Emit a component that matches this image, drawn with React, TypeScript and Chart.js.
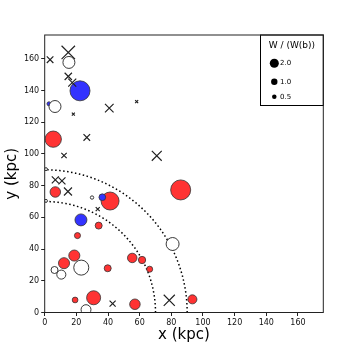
import React, { useEffect, useRef } from "react";
import { Chart, registerables } from "chart.js";

Chart.register(...registerables);

const X_TICKS = [0, 20, 40, 60, 80, 100, 120, 140, 160];
const Y_TICKS = [0, 20, 40, 60, 80, 100, 120, 140, 160];
const X_MAX = 176;
const Y_MAX = 175;
const ARC_RADII = [70, 90];
const LEGEND_TITLE = "W / (W(b))";
const LEGEND_WEIGHTS = [2.0, 1.0, 0.5];

// red (filled) points
const RED_X = [5.4, 6.7, 41.3, 85.9, 34.1, 20.7, 18.7, 12.2, 39.8, 55.3, 61.5, 66.3, 19.2, 30.9, 57.0, 93.3];
const RED_Y = [109.3, 76.0, 70.3, 77.3, 54.8, 48.5, 35.9, 31.1, 27.9, 34.4, 33.1, 27.3, 7.9, 9.3, 5.2, 8.3];
const RED_W = [6.5, 2.7, 7.9, 9.8, 1.2, 0.9, 3.0, 3.0, 1.2, 2.2, 1.3, 0.9, 0.8, 4.8, 2.7, 2.0];

// blue (filled) points
const BLUE_X = [22.3, 2.7, 36.4, 22.9];
const BLUE_Y = [139.8, 131.6, 72.7, 58.4];
const BLUE_W = [9.8, 0.4, 1.1, 3.5];

// open circles
const OPEN_X = [15.3, 6.5, 0.8, 0.8, 29.9, 80.8, 6.2, 10.5, 23.1, 26.1];
const OPEN_Y = [157.7, 129.9, 90.4, 70.4, 72.5, 43.2, 26.8, 23.9, 28.3, 1.8];
const OPEN_W = [3.5, 3.5, 0.22, 0.22, 0.28, 4.1, 1.2, 2.0, 5.5, 2.4];

// crosses
const CROSS_X = [14.9, 3.4, 14.9, 17.4, 40.8, 58.1, 18.1, 26.6, 12.2, 70.8, 6.7, 10.9, 14.7, 33.5, 42.9, 78.7];
const CROSS_Y = [164.0, 159.4, 148.9, 145.0, 128.9, 133.0, 125.1, 110.4, 99.0, 98.8, 83.6, 83.0, 76.3, 65.2, 5.6, 7.7];
const CROSS_W = [4.4, 1.06, 1.3, 1.56, 1.8, 0.22, 0.22, 1.06, 0.7, 2.4, 1.2, 1.2, 1.56, 0.4, 0.9, 3.0];

const FONT = '"DejaVu Sans", sans-serif';
const markerRadius = (w: number) => 3.2 * Math.sqrt(w);
const crossRadius = (w: number) => markerRadius(w) / Math.SQRT1_2;
const pts = (xs: number[], ys: number[]) => xs.map((x, i) => ({ x, y: ys[i] }));

const overlay = {
  id: "overlay",
  beforeDatasetsDraw(chart: any) {
    const { ctx, chartArea: a, scales } = chart;
    const xs = scales.x;
    const ys = scales.y;
    ctx.save();
    ctx.beginPath();
    ctx.rect(a.left, a.top, a.right - a.left, a.bottom - a.top);
    ctx.clip();
    ctx.strokeStyle = "#000";
    ctx.lineWidth = 1.5;
    ctx.setLineDash([1.5, 2.5]);
    for (const r of ARC_RADII) {
      ctx.beginPath();
      for (let i = 0; i <= 180; i++) {
        const t = (i * Math.PI) / 360;
        const px = xs.getPixelForValue(r * Math.cos(t));
        const py = ys.getPixelForValue(r * Math.sin(t));
        if (i === 0) ctx.moveTo(px, py);
        else ctx.lineTo(px, py);
      }
      ctx.stroke();
    }
    ctx.restore();
  },
  afterDraw(chart: any) {
    const { ctx, chartArea: a } = chart;
    ctx.save();
    // legend box
    const bx = 260.5;
    const by = a.top;
    const bw = a.right - bx;
    const bh = 70.5;
    ctx.fillStyle = "#fff";
    ctx.fillRect(bx, by, bw, bh);
    ctx.strokeStyle = "#000";
    ctx.lineWidth = 1;
    ctx.strokeRect(bx, by, bw, bh);
    ctx.fillStyle = "#000";
    ctx.font = `9px ${FONT}`;
    ctx.textAlign = "center";
    ctx.textBaseline = "middle";
    ctx.fillText(LEGEND_TITLE, bx + bw / 2, by + 11);
    const rowY = [63.3, 81.7, 96.7];
    ctx.font = `7px ${FONT}`;
    ctx.textAlign = "left";
    LEGEND_WEIGHTS.forEach((w, i) => {
      ctx.beginPath();
      ctx.arc(274.3, rowY[i], markerRadius(w), 0, Math.PI * 2);
      ctx.fill();
      ctx.fillText(w.toFixed(1), 280, rowY[i]);
    });
    // frame
    ctx.strokeStyle = "#222";
    ctx.lineWidth = 1;
    ctx.strokeRect(a.left, a.top, a.right - a.left, a.bottom - a.top);
    ctx.restore();
  },
};

export default function App() {
  const ref = useRef<HTMLCanvasElement | null>(null);
  useEffect(() => {
    if (!ref.current) return;
    const edge = "#333";
    const chart = new Chart(ref.current, {
      type: "scatter",
      data: {
        datasets: [
          {
            label: "cross",
            data: pts(CROSS_X, CROSS_Y),
            pointStyle: "crossRot",
            pointRadius: CROSS_W.map(crossRadius),
            borderColor: "#222",
            backgroundColor: "#222",
            borderWidth: 1.2,
            clip: 0,
          },
          {
            label: "open",
            data: pts(OPEN_X, OPEN_Y),
            pointStyle: "circle",
            pointRadius: OPEN_W.map(markerRadius),
            borderColor: "#222",
            backgroundColor: "#fff",
            borderWidth: 0.9,
            clip: 0,
          },
          {
            label: "blue",
            data: pts(BLUE_X, BLUE_Y),
            pointStyle: "circle",
            pointRadius: BLUE_W.map(markerRadius),
            borderColor: edge,
            backgroundColor: "#3333ff",
            borderWidth: 0.8,
            clip: 0,
          },
          {
            label: "red",
            data: pts(RED_X, RED_Y),
            pointStyle: "circle",
            pointRadius: RED_W.map(markerRadius),
            borderColor: edge,
            backgroundColor: "#ff3333",
            borderWidth: 0.8,
            clip: 0,
          },
        ],
      },
      options: {
        animation: false,
        responsive: false,
        devicePixelRatio: 1,
        events: [],
        layout: { padding: { top: 35, right: 36.7, left: 0, bottom: 0 } },
        plugins: { legend: { display: false }, tooltip: { enabled: false } },
        scales: {
          x: {
            type: "linear",
            min: 0,
            max: X_MAX,
            afterBuildTicks: (s: any) => {
              s.ticks = X_TICKS.map((v) => ({ value: v }));
            },
            afterFit: (s: any) => {
              s.height = 39.5;
            },
            grid: { drawOnChartArea: false, drawTicks: true, tickLength: 3.5, tickColor: "#222" },
            border: { display: false },
            ticks: { color: "#111", font: { family: FONT, size: 8 }, padding: 2, maxRotation: 0 },
            title: { display: true, text: "x (kpc)", color: "#000", font: { family: FONT, size: 15 }, padding: { top: 0, bottom: 8 } },
          },
          y: {
            type: "linear",
            min: 0,
            max: Y_MAX,
            afterBuildTicks: (s: any) => {
              s.ticks = Y_TICKS.map((v) => ({ value: v }));
            },
            afterFit: (s: any) => {
              s.width = 44.7;
            },
            grid: { drawOnChartArea: false, drawTicks: true, tickLength: 3.5, tickColor: "#222" },
            border: { display: false },
            ticks: { color: "#111", font: { family: FONT, size: 8 }, padding: 2 },
            title: { display: true, text: "y (kpc)", color: "#000", font: { family: FONT, size: 15 }, padding: { top: 3, bottom: 0 } },
          },
        },
      },
      plugins: [overlay],
    } as any);
    return () => chart.destroy();
  }, []);
  return (
    <div style={{ position: "fixed", left: 0, top: 0, width: 360, height: 352, background: "#fff" }}>
      <canvas ref={ref} width={360} height={352} />
    </div>
  );
}
